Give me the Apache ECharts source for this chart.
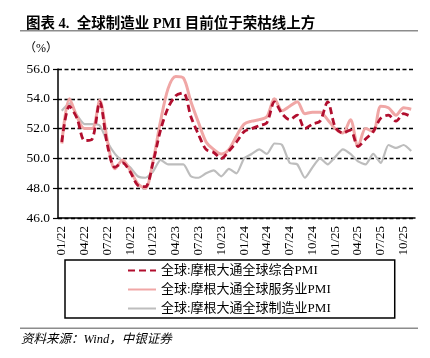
<!DOCTYPE html>
<html>
<head>
<meta charset="utf-8">
<script src="https://cdn.jsdelivr.net/npm/echarts@6/dist/echarts.min.js"></script>
<style>
html,body{margin:0;padding:0;background:#fff;}
#chart{width:430px;height:358px;}
</style>
</head>
<body>
<div id="chart"></div>
<script>
const months = [
  "01/22","02/22","03/22","04/22","05/22","06/22","07/22","08/22","09/22","10/22","11/22","12/22",
  "01/23","02/23","03/23","04/23","05/23","06/23","07/23","08/23","09/23","10/23","11/23","12/23",
  "01/24","02/24","03/24","04/24","05/24","06/24","07/24","08/24","09/24","10/24","11/24","12/24",
  "01/25","02/25","03/25","04/25","05/25","06/25","07/25","08/25","09/25","10/25","11/25"
];
const composite = [
  51.1,53.5,52.7,51.2,51.3,53.8,50.9,49.4,49.7,49.1,48.2,48.1,
  49.7,51.9,53.4,54.2,54.4,52.8,51.6,50.6,50.4,50.0,50.5,51.1,
  51.8,52.0,52.2,52.4,53.8,53.0,52.6,52.9,52.0,52.3,52.5,53.8,
  52.1,51.7,51.9,50.8,51.3,51.8,52.7,52.9,52.5,53.0,52.8
];
const services = [
  51.0,54.0,52.8,52.0,52.0,53.9,51.2,49.3,49.9,49.2,48.3,48.0,
  49.8,52.5,54.7,55.5,55.4,53.8,52.4,51.1,50.6,50.3,50.6,51.5,
  52.3,52.5,52.6,52.8,54.0,53.2,53.5,53.8,53.0,53.1,53.1,52.6,
  52.0,51.7,52.6,50.8,52.0,51.8,53.5,53.4,52.9,53.4,53.3
];
const manufacturing = [
  53.2,53.7,52.9,52.3,52.3,52.2,51.1,50.3,49.8,49.4,48.8,48.7,
  49.1,49.9,49.6,49.6,49.6,48.8,48.7,49.0,49.2,48.8,49.3,49.0,
  50.0,50.3,50.6,50.3,51.0,50.9,49.7,49.6,48.7,49.4,50.0,49.6,
  50.1,50.6,50.3,49.8,49.6,50.3,49.7,50.9,50.7,50.9,50.5
];
const seriesNames = ["全球:摩根大通全球综合PMI","全球:摩根大通全球服务业PMI","全球:摩根大通全球制造业PMI"];
const titleText = "图表 4.  全球制造业 PMI 目前位于荣枯线上方";
const unitText = "（%）";
const sourceText = "资料来源：Wind，中银证券";

const serifCJK = "'Liberation Serif','Noto Sans CJK SC'";
const chart = echarts.init(document.getElementById('chart'), null, {renderer:'canvas'});
chart.setOption({
  animation:false,
  backgroundColor:'#fff',
  title:{
    text:titleText, left:21, top:12,
    textStyle:{fontSize:14.5, fontWeight:'bold', color:'#000', fontFamily:serifCJK}
  },
  graphic:[
    {type:'rect', shape:{x:20,y:30,width:398,height:1.6}, style:{fill:'#8c8c8c'}},
    {type:'rect', shape:{x:20,y:327.5,width:398,height:1.4}, style:{fill:'#8c8c8c'}},
    {type:'text', left:24, top:43, style:{text:unitText, fontSize:12, fill:'#000', fontFamily:serifCJK}},
    {type:'text', left:21, top:333, style:{text:sourceText, fontSize:12.5, fontStyle:'italic', fill:'#000', fontFamily:serifCJK}}
  ],
  grid:{left:58, right:15, top:69, bottom:140, containLabel:false},
  legend:{
    orient:'vertical', left:65, top:260,
    padding:[4,64,3,62],
    borderColor:'#000', borderWidth:1.5,
    itemWidth:28, itemHeight:12, itemGap:6,
    itemStyle:{opacity:0},
    textStyle:{fontSize:13, color:'#000', fontFamily:serifCJK},
    data:seriesNames
  },
  xAxis:{
    type:'category', data:months, boundaryGap:true,
    axisLine:{lineStyle:{color:'#000', width:1.5}},
    axisTick:{interval:2, length:5, lineStyle:{color:'#000', width:1.2}},
    axisLabel:{interval:2, rotate:90, margin:8, fontSize:13, color:'#000', fontFamily:"'Liberation Serif'"},
    splitLine:{show:false}
  },
  yAxis:{
    type:'value', min:46, max:56, interval:2,
    axisLine:{show:true, lineStyle:{color:'#000', width:1.5}},
    axisTick:{show:true, length:5, lineStyle:{color:'#000', width:1.2}},
    axisLabel:{margin:8, fontSize:13.5, color:'#000', fontFamily:"'Liberation Serif'", formatter:v=>v.toFixed(1)},
    splitLine:{show:true, lineStyle:{color:'#000', type:[4,2.5], width:1.3}}
  },
  series:[
    {name:seriesNames[0], type:'line', data:composite, symbol:'none', smooth:0.3, z:5,
     lineStyle:{color:'#B10E2E', width:2.8, type:[7,4]}, itemStyle:{color:'#B10E2E'}},
    {name:seriesNames[1], type:'line', data:services, symbol:'none', smooth:0.3, z:4,
     lineStyle:{color:'#F0A7A6', width:3}, itemStyle:{color:'#F0A7A6'}},
    {name:seriesNames[2], type:'line', data:manufacturing, symbol:'none', smooth:0.2, z:3,
     lineStyle:{color:'#BDBDBD', width:2.2}, itemStyle:{color:'#BDBDBD'}}
  ]
});
</script>
</body>
</html>
